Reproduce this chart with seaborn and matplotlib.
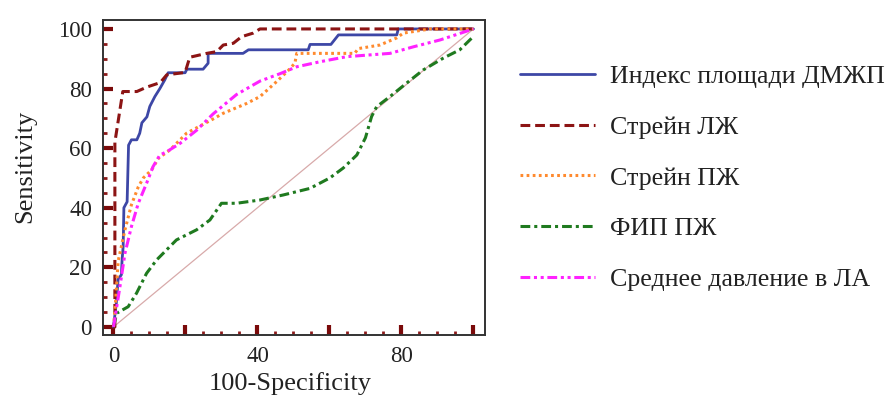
import numpy as np
import pandas as pd
import seaborn as sns
import matplotlib
matplotlib.use("Agg")
import matplotlib.pyplot as plt
from matplotlib.ticker import FixedLocator, MultipleLocator

# ---- data ----
labels = ["Индекс площади ДМЖП", "Стрейн ЛЖ", "Стрейн ПЖ", "ФИП ПЖ", "Среднее давление в ЛА"]

blue_x = [0, 0.8, 1.3, 2.2, 2.4, 2.7, 2.9, 3.8, 4.2, 5.0, 6.5, 7.3, 7.9, 9.3, 10.1, 11.5, 12.9, 14.3, 15.2,
          19.9, 20.4, 24.9, 26.3, 26.3, 36.0, 37.5, 54.1, 54.6, 60.4, 62.5, 78.7, 79.1, 100]
blue_y = [0, 8, 16, 17.5, 22.5, 27, 40, 42, 61, 62.8, 62.8, 65, 68.5, 70.5, 74, 77.3, 80, 83, 85.3,
          85.3, 86.5, 86.5, 88.5, 91.8, 91.8, 93, 93, 94.8, 94.8, 98, 98, 100, 100]

red_x = [0, 0.4, 0.4, 2.6, 6.5, 9.3, 13.0, 14.8, 19.9, 21.2, 25.9, 28.7, 30.5, 33.3, 35.6, 38.8, 40.7, 100]
red_y = [0, 0, 62, 79, 79, 80.5, 82, 84.6, 85.4, 90.5, 91.8, 92.4, 94.6, 95.2, 97.4, 98.6, 100, 100]

orange_x = [0, 0.4, 1.3, 3.2, 5.0, 6.9, 8.3, 10.6, 12.5, 15.7, 20.3, 27.7, 30.5, 37.0, 40.7, 45.3, 48.5,
            50.4, 50.9, 67.0, 68.0, 74.0, 78.7, 80.5, 88.0, 100]
orange_y = [0, 5, 22, 32.6, 41, 47, 50, 52.7, 56.6, 59.4, 65, 69.8, 71.7, 75, 77.3, 82.3, 86,
            88.5, 91.8, 91.8, 93.4, 94.6, 97, 98.6, 100, 100]

green_x = [0, 0.9, 4.1, 6.4, 9.2, 12.0, 17.5, 23.1, 26.8, 30.0, 34.2, 40.7, 47.2, 54.6, 60.1, 63.8, 67.6,
           70.0, 71.7, 73.1, 76.8, 81.4, 86.0, 91.6, 96.2, 100]
green_y = [0, 4.6, 6.8, 11.3, 18, 22.5, 29.2, 32.6, 35.9, 41.5, 41.5, 42.6, 44.3, 46.5, 50, 53.3, 57.7,
           63.5, 70.6, 73.9, 77.3, 81.8, 86.2, 90.2, 93, 97.5]

magenta_x = [0, 0.3, 1.8, 3.2, 5.0, 6.9, 9.2, 11.0, 12.9, 14.8, 18.5, 23.1, 27.7, 34.2, 40.7, 46.3, 50.9,
             57.4, 64.8, 76.8, 83.3, 90.7, 100]
magenta_y = [0, 2, 13.5, 24.7, 33.7, 41.5, 48.2, 53.8, 57.7, 58.8, 61.6, 66, 71.5, 78, 82.5, 85, 87.3,
             89, 90.7, 91.8, 94, 96.3, 100]

diag_x = [0, 100]
diag_y = [0, 100]

x_ticks = [0, 20, 40, 60, 80, 100]
x_ticklabels = ["0", "", "40", "", "80", ""]
y_ticks = [0, 20, 40, 60, 80, 100]
y_ticklabels = ["0", "20", "40", "60", "80", "100"]

# ---- styling ----
sns.set_style("white")
plt.rcParams["font.family"] = ["Liberation Serif", "DejaVu Serif"]

fig = plt.figure(figsize=(8.92, 4.04), dpi=100)
ax = fig.add_axes([103 / 892, 69 / 404, 382 / 892, 315 / 404])

series = [
    (blue_x, blue_y, "#3d47a6", "-", 2.0),
    (red_x, red_y, "#8c1414", (0, (3.2, 1.6)), 2.2),
    (orange_x, orange_y, "#ff8a2e", (0, (0.9, 1.1)), 2.2),
    (green_x, green_y, "#1f7a1f", (0, (3.2, 1.3, 1.0, 1.3)), 2.2),
    (magenta_x, magenta_y, "#ff22ff", (0, (3.2, 1.2, 1.0, 1.2, 1.0, 1.2)), 2.2),
]

sns.lineplot(x=diag_x, y=diag_y, ax=ax, color="#d8aaaa", linewidth=0.9, sort=False, estimator=None)

handles = []
for (xs, ys, col, ls, lw), lab in zip(series, labels):
    df = pd.DataFrame({"x": xs, "y": ys})
    sns.lineplot(data=df, x="x", y="y", ax=ax, color=col, linewidth=lw, linestyle=ls,
                 sort=False, estimator=None, label=lab, legend=False)
    handles.append(ax.lines[-1])

ax.set_xlim(-2.9, 103.2)
ax.set_ylim(-2.7, 103)

ax.xaxis.set_major_locator(FixedLocator(x_ticks))
ax.set_xticklabels(x_ticklabels)
ax.yaxis.set_major_locator(FixedLocator(y_ticks))
ax.set_yticklabels(y_ticklabels)
ax.xaxis.set_minor_locator(MultipleLocator(5))
ax.yaxis.set_minor_locator(MultipleLocator(5))

ax.tick_params(which="major", direction="in", length=7, width=3, color="#7a0a0a",
               labelsize=16.5, labelcolor="#222222", pad=8)
ax.tick_params(which="minor", direction="in", length=3, width=2, color="#8c1a1a")
ax.tick_params(axis="both", which="both", top=False, right=False, bottom=True, left=True)

for sp in ax.spines.values():
    sp.set_color("#333333")
    sp.set_linewidth(1.4)

ax.set_xlabel("100-Specificity", fontsize=19, color="#222222")
ax.set_ylabel("Sensitivity", fontsize=19, color="#222222")
ax.xaxis.set_label_coords(0.49, -0.118)
ax.yaxis.set_label_coords(-0.175, 0.536)

fig.legend(handles=handles, labels=labels, loc="center left",
           bbox_to_anchor=(520 / 892, 1 - 178 / 404), bbox_transform=fig.transFigure,
           frameon=False, fontsize=18.7, handlelength=2.9, handletextpad=0.55,
           labelspacing=1.06, borderpad=0, borderaxespad=0, labelcolor="#222222")

fig.savefig("out.png", dpi=100)
